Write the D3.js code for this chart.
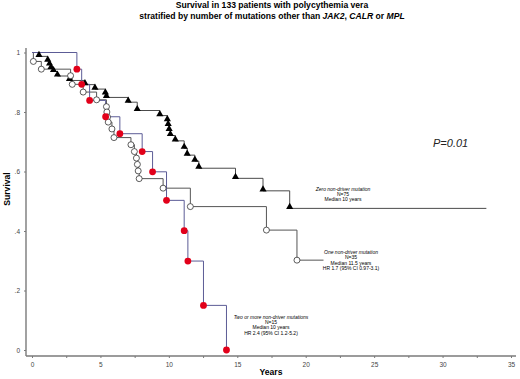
<!DOCTYPE html>
<html>
<head>
<meta charset="utf-8">
<script src="https://cdn.jsdelivr.net/npm/d3@7"></script>
<style>
  body { margin: 0; background: #fff; }
  svg { display: block; font-family: Arial, "Liberation Sans", sans-serif; }
</style>
</head>
<body>
<svg id="chart" width="520" height="379"></svg>
<script>
// zero non-driver mutation (triangles)
const zeroTimes = [0.51, 1.15, 1.28, 1.39, 1.57, 1.86, 2.74, 3.87, 4.60, 5.36, 5.44, 7.03, 7.69,
  9.34, 9.89, 9.95, 10.02, 10.11, 10.47, 11.12, 11.34, 11.90, 12.19, 14.87, 16.88, 18.83]
const zeroSurv = [0.987, 0.971, 0.958, 0.946, 0.936, 0.921, 0.906, 0.892, 0.877, 0.861, 0.849, 0.833, 0.805,
  0.788, 0.771, 0.755, 0.738, 0.721, 0.703, 0.678, 0.655, 0.635, 0.611, 0.577, 0.535, 0.476]
const zeroEnd = 33.2

// one non-driver mutation (open circles)
const oneTimes = [0.10, 0.68, 2.82, 2.94, 3.74, 4.72, 5.44, 5.47, 5.52, 5.57, 5.84, 5.99,
  7.23, 7.48, 7.63, 7.70, 7.76, 7.83, 9.58, 11.57, 17.13, 19.36]
const oneSurv = [0.970, 0.944, 0.922, 0.893, 0.867, 0.841, 0.818, 0.800, 0.783, 0.766, 0.743, 0.714,
  0.690, 0.667, 0.645, 0.624, 0.602, 0.576, 0.544, 0.482, 0.403, 0.302]
const oneEnd = 21.3

// two or more non-driver mutations (red dots)
const twoTimes = [3.28, 3.63, 4.21, 5.38, 6.42, 8.05, 8.81, 9.83, 11.12, 11.39, 12.53, 14.21]
const twoSurv = [0.944, 0.893, 0.839, 0.784, 0.727, 0.667, 0.599, 0.503, 0.401, 0.299, 0.150, 0]

const xTicks = [0, 5, 10, 15, 20, 25, 30, 35]
const yTicks = [0, 0.2, 0.4, 0.6, 0.8, 1]
const yTickLabels = ['0', '.2', '.4', '.6', '.8', '1']

const svg = d3.select('#chart')
const x = d3.scaleLinear().domain([0, 35]).range([32, 511])
const y = d3.scaleLinear().domain([0, 1]).range([350, 52.5])

// titles
const title = svg.append('g').attr('font-weight', 'bold').attr('font-size', 8.6).attr('text-anchor', 'middle')
title.append('text').attr('x', 272).attr('y', 8).text('Survival in 133 patients with polycythemia vera')
const t2 = title.append('text').attr('x', 272).attr('y', 18.5)
t2.append('tspan').text('stratified by number of mutations other than ')
t2.append('tspan').attr('font-style', 'italic').text('JAK2')
t2.append('tspan').text(', ')
t2.append('tspan').attr('font-style', 'italic').text('CALR')
t2.append('tspan').text(' or ')
t2.append('tspan').attr('font-style', 'italic').text('MPL')

// axes
const xAxis = svg.append('g').attr('transform', 'translate(0,356)')
  .call(d3.axisBottom(x).tickValues(d3.range(0, 35.1, 2.5)).tickSize(2)
    .tickFormat(d => xTicks.includes(d) ? d : ''))
const yAxis = svg.append('g').attr('transform', 'translate(26,0)')
  .call(d3.axisLeft(y).tickValues(yTicks).tickSize(2)
    .tickFormat((d, i) => yTickLabels[i]))
xAxis.select('.domain').attr('d', 'M26,0H516')
yAxis.select('.domain').attr('d', 'M0,48V356')
svg.selectAll('.domain').attr('stroke', '#7a7a7a').attr('stroke-width', 1.4)
svg.selectAll('.tick line').attr('stroke', '#7a7a7a')
svg.selectAll('.tick text').attr('font-size', 6.5).attr('fill', '#444')
  .attr('font-family', 'Arial, "Liberation Sans", sans-serif')
xAxis.selectAll('.tick text').attr('dy', '0.9em').attr('y', 5)
yAxis.selectAll('.tick text').attr('x', -6)

svg.append('text').attr('x', 271).attr('y', 375).attr('text-anchor', 'middle')
  .attr('font-weight', 'bold').attr('font-size', 8.6).text('Years')
svg.append('text').attr('transform', 'translate(10,189) rotate(-90)').attr('text-anchor', 'middle')
  .attr('font-weight', 'bold').attr('font-size', 8.6).text('Survival')

// curves
function stepPoints (times, surv, end) {
  const pts = [[0, 1]]
  times.forEach((t, i) => pts.push([t, surv[i]]))
  if (end != null) pts.push([end, surv[surv.length - 1]])
  return pts
}
const line = d3.line().x(d => x(d[0])).y(d => y(d[1])).curve(d3.curveStepAfter)

svg.append('path').datum(stepPoints(zeroTimes, zeroSurv, zeroEnd))
  .attr('d', line).attr('fill', 'none').attr('stroke', '#4a4a4a').attr('stroke-width', 1)
svg.append('path').datum(stepPoints(oneTimes, oneSurv, oneEnd))
  .attr('d', line).attr('fill', 'none').attr('stroke', '#555').attr('stroke-width', 1)
svg.append('path').datum(stepPoints(twoTimes, twoSurv, null))
  .attr('d', line).attr('fill', 'none').attr('stroke', '#5c5c96').attr('stroke-width', 1)

const tri = d3.symbol().type(d3.symbolTriangle).size(22)
svg.append('g').selectAll('path').data(zeroTimes).join('path')
  .attr('d', tri).attr('transform', (t, i) => `translate(${x(t)},${y(zeroSurv[i]) - 1.5})`)
  .attr('fill', '#000')
svg.append('g').selectAll('circle').data(oneTimes).join('circle')
  .attr('cx', t => x(t)).attr('cy', (t, i) => y(oneSurv[i])).attr('r', 3)
  .attr('fill', '#fff').attr('stroke', '#333').attr('stroke-width', 0.8)
svg.append('g').selectAll('circle').data(twoTimes).join('circle')
  .attr('cx', t => x(t)).attr('cy', (t, i) => y(twoSurv[i])).attr('r', 3.4)
  .attr('fill', '#e2001a')

// annotations
function note (cx, cy, lines) {
  const g = svg.append('g').attr('font-size', 5).attr('text-anchor', 'middle')
  lines.forEach((l, i) => {
    g.append('text').attr('x', cx).attr('y', cy + i * 5.4)
      .attr('font-style', i === 0 ? 'italic' : 'normal').text(l)
  })
}
note(343, 190.5, ['Zero non-driver mutation', 'N=75', 'Median 10 years'])
note(351, 254, ['One non-driver mutation', 'N=35', 'Median 11.5 years', 'HR 1.7 (95% CI 0.97-3.1)'])
note(271, 318.5, ['Two or more non-driver mutations', 'N=15', 'Median 10 years', 'HR 2.4 (95% CI 1.2-5.2)'])

svg.append('text').attr('x', 433).attr('y', 147).attr('font-size', 11).attr('font-style', 'italic')
  .attr('fill', '#222').text('P=0.01')
</script>
</body>
</html>
